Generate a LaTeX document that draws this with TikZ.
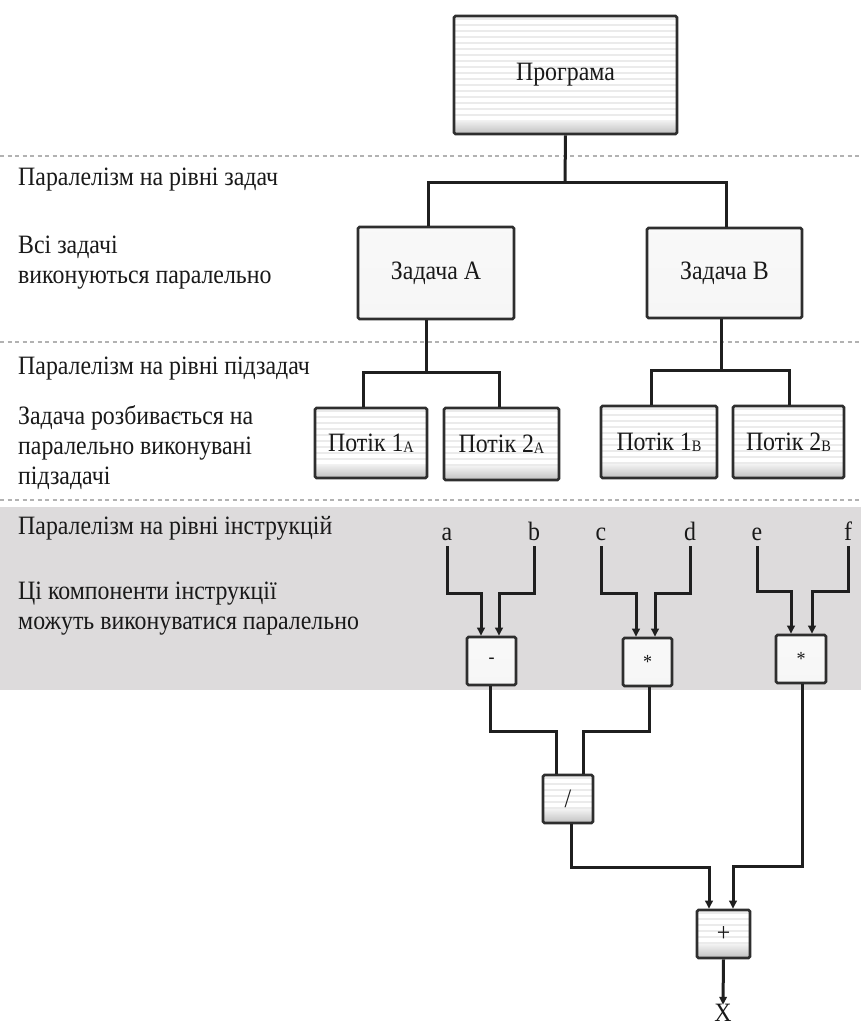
\documentclass[tikz,border=0pt]{standalone}
\usepackage{fontspec}
\setmainfont{Liberation Serif}[FakeStretch=0.9]
\usetikzlibrary{arrows.meta}

\definecolor{bandgray}{HTML}{DDDBDC}
\definecolor{frame}{HTML}{2E2E2E}

\tikzset{
  conn/.style={line width=3pt, draw=black!88},
  arr/.style={conn, -{Triangle[length=8pt,width=7.5pt]}},
  levelline/.style={draw=gray!60, line width=2pt, dash pattern=on 4pt off 3.5pt},
  lefttext/.style={anchor=west, align=left, inner sep=0pt,
    font=\fontsize{26.5}{30}\selectfont, text=black!90},
  basebox/.style={draw=frame, line width=2.6pt, rounded corners=1.5pt,
    inner sep=0pt, font=\fontsize{26.5}{30}\selectfont, text=black!90},
  stripebox/.style={basebox,
    path picture={
      \fill[white] (path picture bounding box.north west) rectangle (path picture bounding box.south east);
      \foreach \k in {0,...,24}
        \draw[gray!16, line width=2.5pt]
          ([yshift=-3pt-\k*6pt]path picture bounding box.north west) --
          ([yshift=-3pt-\k*6pt]path picture bounding box.north east);
      \shade[top color=gray!10, bottom color=gray!50]
        ([yshift=14pt]path picture bounding box.south west) rectangle (path picture bounding box.south east);
    }},
  glossbox/.style={basebox, top color=gray!5, middle color=gray!26, bottom color=gray!7},
  opbox/.style={glossbox, minimum width=49pt, minimum height=48pt, font=\fontsize{20}{20}\selectfont},
  varlabel/.style={inner sep=1pt, text height=15pt, text depth=5pt,
    font=\fontsize{26.5}{30}\selectfont, text=black!90}
}

\newcommand{\subsc}[1]{\raisebox{-1pt}{\fontsize{16}{16}\selectfont #1}}

\begin{document}
\begin{tikzpicture}[x=1pt, y=-1pt]
\useasboundingbox (0,0) rectangle (861,1028);
\fill[white] (0,0) rectangle (861,1028);

% instruction-level band
\fill[bandgray] (0,507) rectangle (861,690);

% level separators
\draw[levelline] (0,156) -- (861,156);
\draw[levelline] (0,342) -- (861,342);
\draw[levelline] (0,500) -- (861,500);

% level descriptions
\node[lefttext] (l1) at (18,180) {Паралелізм на рівні задач};
\node[lefttext] (l2) at (18,263) {Всі задачі\\виконуються паралельно};
\node[lefttext] (l3) at (18,369) {Паралелізм на рівні підзадач};
\node[lefttext] (l4) at (18,448) {Задача розбивається на\\паралельно виконувані\\підзадачі};
\node[lefttext] (l5) at (18,528) {Паралелізм на рівні інструкцій};
\node[lefttext] (l6) at (18,609) {Ці компоненти інструкції\\можуть виконуватися паралельно};

% program and tasks
\node[stripebox, minimum width=223pt, minimum height=118pt] (prog) at (565.5,75) {Програма};
\node[glossbox, minimum width=156pt, minimum height=92pt] (tA) at (436,273) {Задача A};
\node[glossbox, minimum width=155pt, minimum height=90pt] (tB) at (724.5,273) {Задача B};

% threads
\node[stripebox, minimum width=112pt, minimum height=70pt] (pA1) at (371,443) {Потік 1\subsc{A}};
\node[stripebox, minimum width=115pt, minimum height=72pt] (pA2) at (501.5,444) {Потік 2\subsc{A}};
\node[stripebox, minimum width=116pt, minimum height=72pt] (pB1) at (659,442) {Потік 1\subsc{B}};
\node[stripebox, minimum width=111pt, minimum height=72pt] (pB2) at (788.5,442) {Потік 2\subsc{B}};

% operands
\node[varlabel] (va) at (447,535) {a};
\node[varlabel] (vb) at (534,535) {b};
\node[varlabel] (vc) at (601,535) {c};
\node[varlabel] (vd) at (690,535) {d};
\node[varlabel] (ve) at (757,535) {e};
\node[varlabel] (vf) at (848,535) {f};

% operations
\node[opbox] (op1) at (491.5,661) {-};
\node[opbox] (op2) at (647.5,662) {*};
\node[opbox, minimum width=50pt] (op3) at (801,659) {*};
\node[stripebox, minimum width=50pt, minimum height=48pt] (div) at (568,799) {/};
\node[stripebox, minimum width=53pt, minimum height=48pt] (plus) at (723.5,934) {+};
\node[varlabel] (vx) at (723,1016) {X};

% junctions
\coordinate (j1) at (565,182);
\coordinate (j2) at (426,372);
\coordinate (j3) at (721,370);

% program -> tasks
\draw[conn] (prog.south) -- (j1);
\draw[conn] (j1) -| ([xshift=-8pt]tA.north);
\draw[conn] (j1) -| ([xshift=1.5pt]tB.north);

% tasks -> threads
\draw[conn] ([xshift=-10pt]tA.south) -- (j2);
\draw[conn] (j2) -| ([xshift=-8pt]pA1.north);
\draw[conn] (j2) -| ([xshift=-2.5pt]pA2.north);
\draw[conn] ([xshift=-3.5pt]tB.south) -- (j3);
\draw[conn] (j3) -| ([xshift=-8pt]pB1.north);
\draw[conn] (j3) -| ([xshift=0.5pt]pB2.north);

% operands -> operations
\draw[arr] (va.south) |- (470,593) -| ([xshift=-10.5pt]op1.north);
\draw[arr] (vb.south) |- (510,593) -| ([xshift=7.5pt]op1.north);
\draw[arr] (vc.south) |- (620,593) -| ([xshift=-11.5pt]op2.north);
\draw[arr] (vd.south) |- (670,593) -| ([xshift=7.5pt]op2.north);
\draw[arr] (ve.south) |- (775,591) -| ([xshift=-10pt]op3.north);
\draw[arr] (vf.south) |- (830,591) -| ([xshift=11pt]op3.north);

% operations -> division
\draw[conn] ([xshift=-1.5pt]op1.south) |- (530,731) -| ([xshift=-12pt]div.north);
\draw[conn] ([xshift=1.5pt]op2.south) |- (610,731) -| ([xshift=15pt]div.north);

% division and product -> sum
\draw[arr] ([xshift=3pt]div.south) |- (650,867) -| ([xshift=-14.5pt]plus.north);
\draw[arr] ([xshift=1pt]op3.south) |- (760,866) -| ([xshift=9.5pt]plus.north);

% sum -> result
\draw[arr] (plus.south) -- (vx.north);
\end{tikzpicture}
\end{document}
